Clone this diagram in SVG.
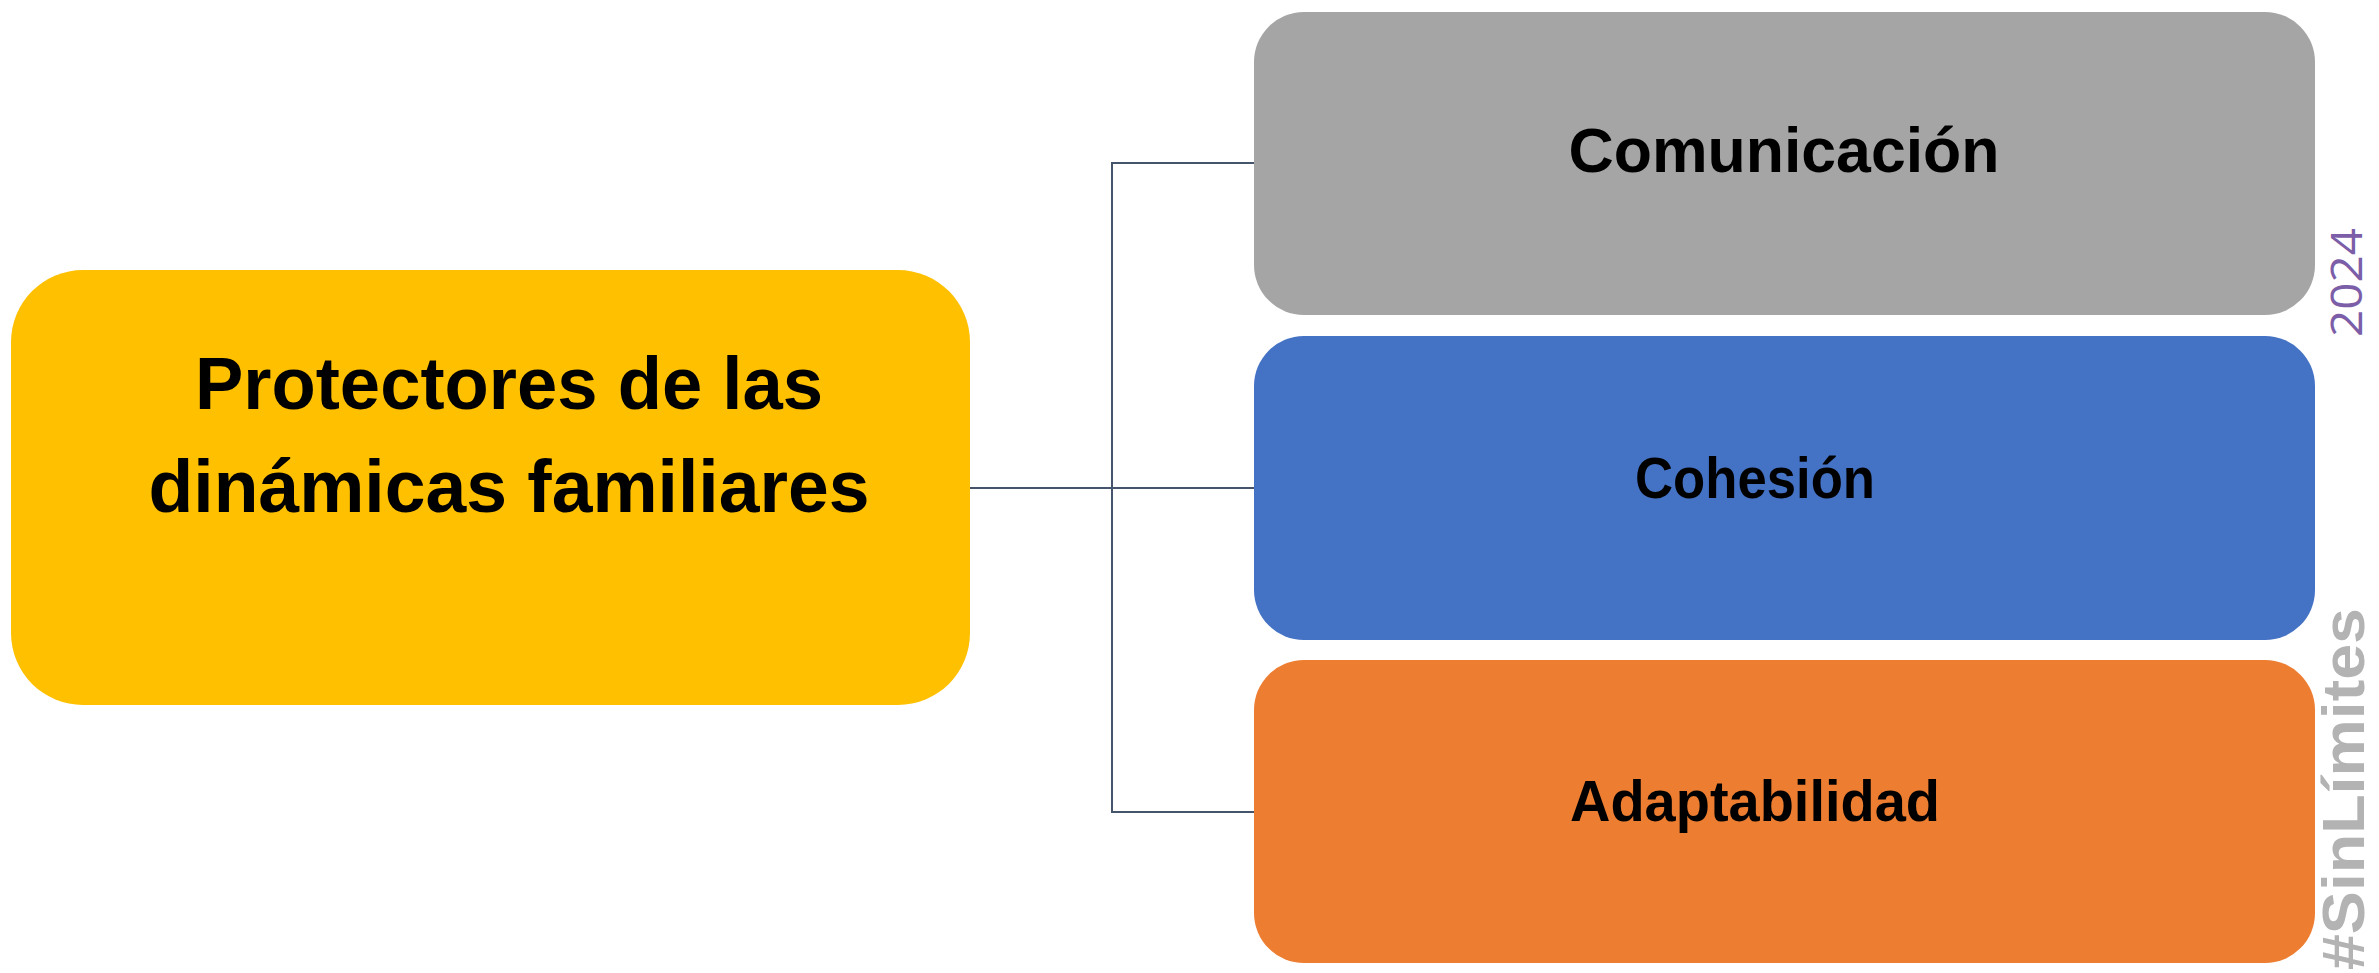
<svg xmlns="http://www.w3.org/2000/svg" width="2379" height="973" viewBox="0 0 2379 973">
<style>
.lbl{font-family:"Liberation Sans",Arial,sans-serif;font-weight:bold;fill:#000;text-anchor:middle}
.conn{fill:none;stroke:#44546A;stroke-width:2}
</style>
<rect width="2379" height="973" fill="#fff"/>
<g id="connectors">
<path class="conn" d="M970,488 H1254"/>
<path class="conn" d="M1254,163 H1112 V812 H1254"/>
</g>
<g id="node-root">
<rect x="11" y="270" width="959" height="435" rx="72" ry="72" fill="#FFC000"/>
<text class="lbl" x="509" y="409" font-size="74" textLength="628" lengthAdjust="spacingAndGlyphs">Protectores de las</text>
<text class="lbl" x="509" y="512" font-size="74" textLength="721" lengthAdjust="spacingAndGlyphs">dinámicas familiares</text>
</g>
<g id="node-comunicacion">
<rect x="1254" y="12" width="1061" height="303" rx="50" ry="50" fill="#A5A5A5"/>
<text class="lbl" x="1784" y="172" font-size="63" textLength="431" lengthAdjust="spacingAndGlyphs">Comunicación</text>
</g>
<g id="node-cohesion">
<rect x="1254" y="336" width="1061" height="304" rx="50" ry="50" fill="#4472C4"/>
<text class="lbl" x="1755" y="498" font-size="57" textLength="240" lengthAdjust="spacingAndGlyphs">Cohesión</text>
</g>
<g id="node-adaptabilidad">
<rect x="1254" y="660" width="1061" height="303" rx="50" ry="50" fill="#ED7D31"/>
<text class="lbl" x="1755" y="821" font-size="58" textLength="370" lengthAdjust="spacingAndGlyphs">Adaptabilidad</text>
</g>
<g id="watermark">
<text transform="translate(2362,337) rotate(-90)" font-family="'Open Sans','DejaVu Sans',sans-serif" font-size="44" fill="#7B5EA7" textLength="109" lengthAdjust="spacingAndGlyphs">2024</text>
<text transform="translate(2364,970) rotate(-90)" font-family="'Liberation Sans',Arial,sans-serif" font-weight="bold" font-size="60" fill="#B3B3B3" textLength="362" lengthAdjust="spacingAndGlyphs">#SinLímites</text>
</g>
</svg>
